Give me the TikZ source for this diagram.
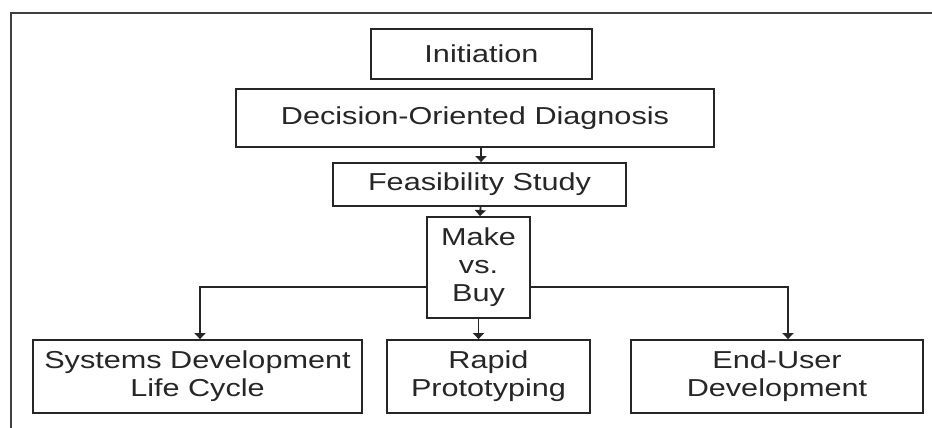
\documentclass[tikz,border=0pt]{standalone}
\usepackage{fontspec}
\setmainfont{Liberation Sans}[FakeStretch=1.25]
\usetikzlibrary{arrows.meta}
\begin{document}
\begin{tikzpicture}[x=1pt,y=-1pt,
  box/.style={draw=black!85, line width=1.8pt, align=center, inner sep=1pt,
    font=\fontsize{24.5}{28}\selectfont, text=black!85},
  conn/.style={draw=black!85, line width=1.8pt, -{Triangle[width=11pt,length=6pt]}},
  frameline/.style={draw=black!75, line width=1.5pt}]
\useasboundingbox (0,0) rectangle (932,428);
\fill[white] (0,0) rectangle (932,428);
\draw[frameline] (11,430) -- (11,13) -- (934,13);

\node[box, minimum width=221pt, minimum height=50pt] (init) at (481.5,54) {Initiation};
\node[box, minimum width=478pt, minimum height=58pt] (dod) at (475,118) {Decision-Oriented Diagnosis};
\node[box, minimum width=293pt, minimum height=43pt] (feas) at (479.5,184.5) {Feasibility Study};
\node[box, minimum width=103pt, minimum height=101pt] (mvb) at (478.5,267.5) {Make\\vs.\\Buy};
\node[box, minimum width=329pt, minimum height=73pt] (sdlc) at (197.5,376.5) {Systems Development\\Life Cycle};
\node[box, minimum width=203pt, minimum height=73pt] (rapid) at (488.5,376.5) {Rapid\\Prototyping};
\node[box, minimum width=292pt, minimum height=73pt] (eud) at (777,376.5) {End-User\\Development};

\draw[conn] ([xshift=6pt]dod.south) -- ([xshift=1.5pt]feas.north);
\draw[conn] ([xshift=1pt]feas.south) -- ([xshift=1.5pt]mvb.north);
\draw[conn] ([yshift=-19.5pt]mvb.west) -| ([xshift=2.5pt]sdlc.north);
\draw[conn] (mvb.south) -- (mvb.south |- rapid.north);
\draw[conn] ([yshift=-19.5pt]mvb.east) -| ([xshift=11pt]eud.north);
\end{tikzpicture}
\end{document}
